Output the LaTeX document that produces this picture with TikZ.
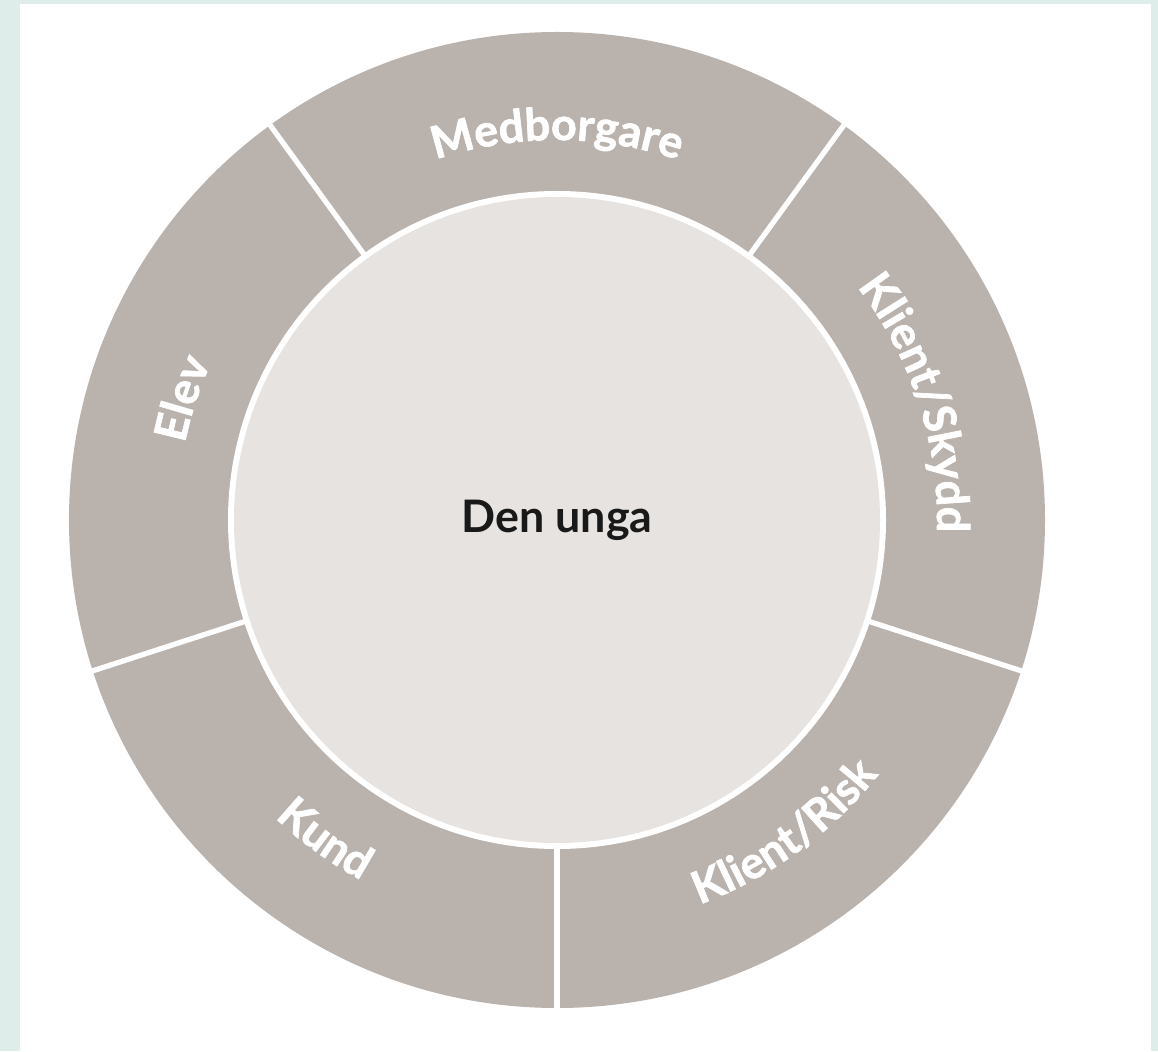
\documentclass[tikz,border=0pt]{standalone}
\usepackage{fontspec}
\setmainfont{Lato}
\newfontfamily\ringfont[BoldFeatures={FakeBold=1.6}]{Lato}
\usepackage{tikz}
\usetikzlibrary{decorations.text}
\definecolor{ringgray}{HTML}{B9B2AD}
\definecolor{coregray}{HTML}{E6E3E0}
\definecolor{framegreen}{HTML}{DEEDEA}
\newcommand{\lbl}{\ringfont\fontsize{25.5}{30}\selectfont\bfseries}
\tikzset{divider/.style = {draw=white, line width=3pt}}
\tikzset{ringlabel/.style = {decorate, decoration={text effects along path, text={#1}, text align=center,
  text effects/.cd, text along path, characters={text=white, font=\lbl, inner sep=0pt}}}}

\begin{document}
\begin{tikzpicture}[x=0.02cm,y=0.02cm]
  \fill[framegreen] (-557,-531) rectangle (601,520);
  \fill[white] (-537,-531) rectangle (594,516);
  \useasboundingbox (-557,-531) rectangle (601,520);

  \fill[ringgray] (0,0) circle (488);
  \fill[white] (0,0) circle (329);
  \fill[coregray] (0,0) circle (323);

  \foreach \i in {0,...,4} {
    \coordinate (a\i) at (72*\i + 270:326);
    \coordinate (b\i) at (72*\i + 270:495);
  }
  \foreach \i in {0,...,4} {
    \draw[divider] (a\i) -- (b\i);
  }

  \node[font=\fontsize{25.5}{31}\selectfont\bfseries, text=black!90, anchor=base] (unga) at (0,-12) {Den unga};

  \path[ringlabel=Medborgare] (126:380) arc[start angle=126, end angle=54, radius=380];
  \path[ringlabel=Klient/Skydd] (54:380) arc[start angle=54, end angle=-18, radius=380];
  \path[ringlabel=Elev] (198:380) arc[start angle=198, end angle=126, radius=380];
  \path[ringlabel=Kund] (198:410) arc[start angle=198, end angle=270, radius=410];
  \path[ringlabel=Klient/Risk] (270:410) arc[start angle=270, end angle=342, radius=410];
\end{tikzpicture}
\end{document}
